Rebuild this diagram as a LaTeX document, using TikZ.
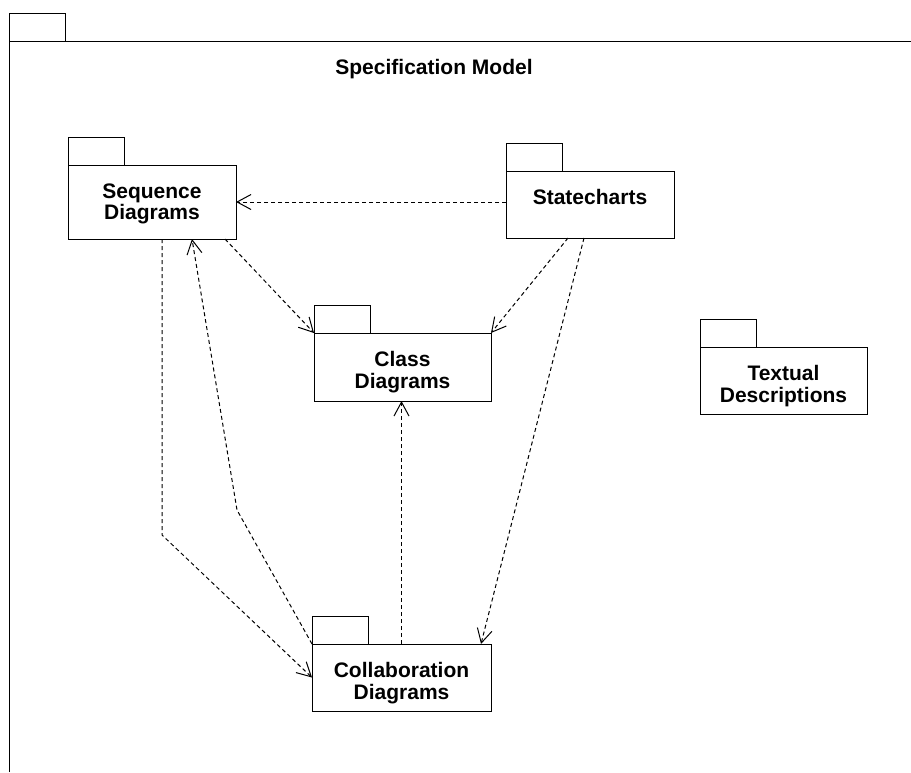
\documentclass[tikz,border=0pt]{standalone}
\usepackage{fontspec}
\setmainfont{Liberation Sans}
\usetikzlibrary{arrows.meta,positioning}

\tikzset{
  pkg/.style={draw, rectangle, outer sep=0pt, inner sep=0pt, anchor=north west},
  pkgname/.style={font=\bfseries\fontsize{21}{21.5}\selectfont, align=center, inner sep=0pt},
  dep/.style={dash pattern=on 4pt off 3pt, -{Straight Barb[length=14pt,width=15pt]}},
}
\newcommand{\pkgtab}[1]{\draw (#1.north west) rectangle ++(56,-28);}

\begin{document}
\begin{tikzpicture}[x=1pt,y=-1pt,line width=1pt]
       \useasboundingbox (0,0) rectangle (911,772);
       % outer package
       \draw (9,41) rectangle (65,13);
       \draw (9,772) -- (9,41) -- (911,41);
       \node[pkgname, anchor=base] (title) at (434,74) {Specification Model};
       % packages
       \node[pkg, minimum width=168pt, minimum height=74pt] (seq) at (68,165) {};
       \node[pkg, minimum width=168pt, minimum height=67pt] (stc) at (506,171) {};
       \node[pkg, minimum width=177pt, minimum height=68pt] (cls) at (314,333) {};
       \node[pkg, minimum width=167pt, minimum height=67pt] (txt) at (700,347) {};
       \node[pkg, minimum width=179pt, minimum height=67pt] (col) at (312,644) {};
       \pkgtab{seq} \pkgtab{stc} \pkgtab{cls} \pkgtab{txt} \pkgtab{col}
       \node[pkgname, below=18pt of seq.north] (seqname) {Sequence\\Diagrams};
       \node[pkgname, below=18pt of stc.north] (stcname) {Statecharts};
       \node[pkgname, below=18pt of cls.north] (clsname) {Class\\Diagrams};
       \node[pkgname, below=18pt of txt.north] (txtname) {Textual\\Descriptions};
       \node[pkgname, below=18pt of col.north] (colname) {Collaboration\\Diagrams};
       % dependencies
       \draw[dep] (stc.west |- seq.east) -- (seq.east);
       \draw[dep] ([xshift=-11pt]seq.south east) -- (cls.north west);
       \draw[dep] ([xshift=-22pt]stc.south) -- (cls.north east);
       \draw[dep] ([xshift=-6pt]stc.south) -- ([xshift=-10pt]col.north east);
       \draw[dep] ([xshift=10pt]seq.south) -- ++(0,296) -- (col.west);
       \draw[dep] (col.north west) -- (237,510) -- ([xshift=40pt]seq.south);
       \draw[dep] (col.north) -- (col.north |- cls.south);
      \end{tikzpicture}
\end{document}
